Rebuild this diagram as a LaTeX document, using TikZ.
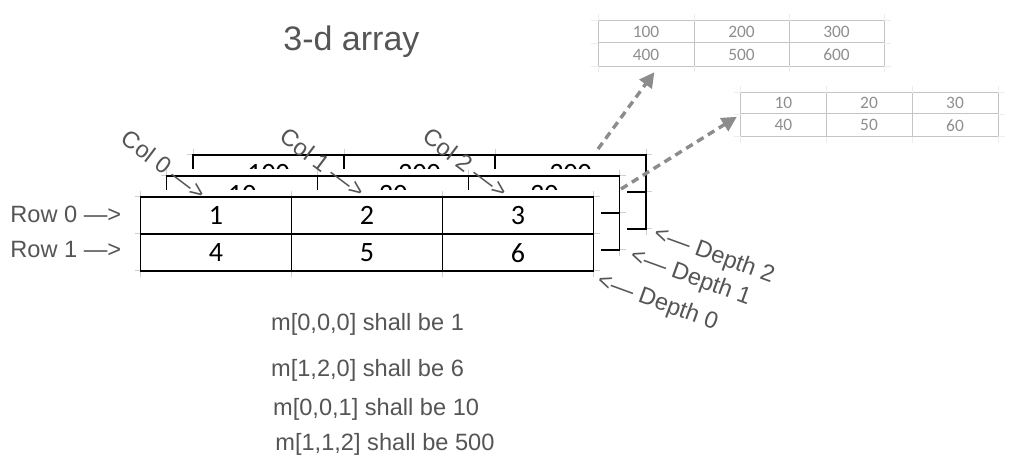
\documentclass[tikz,border=0pt]{standalone}
\usepackage{fontspec}
\setmainfont{Liberation Sans}
\newfontfamily\cellfont{Carlito}
\usetikzlibrary{arrows.meta}
\definecolor{textgray}{HTML}{555555}
\definecolor{tickgray}{HTML}{CFCFCF}
\definecolor{pastegray}{HTML}{C4C4C4}
\definecolor{pastetext}{HTML}{8E8E8E}
\definecolor{faintgray}{HTML}{EDEDED}
\definecolor{arrowgray}{HTML}{8C8C8C}

\begin{document}
\begin{tikzpicture}[x=0.5pt,y=-0.5pt,
    grid/.style={line width=0.65pt},
    tick/.style={tickgray,line width=0.5pt},
    tag/.style={text=textgray,font=\fontsize{11.8}{14}\selectfont,inner sep=0pt},
    num/.style={text=black,font=\cellfont\fontsize{14}{16}\selectfont,inner sep=0pt},
    pasted/.style={draw=pastegray,line width=0.5pt,inner sep=0pt},
    pastenum/.style={text=pastetext,font=\cellfont\fontsize{8.7}{10}\selectfont,inner sep=0pt},
    dasharrow/.style={arrowgray,line width=1.7pt,dash pattern=on 3.8pt off 2.6pt,
        -{Triangle[length=7.5pt,width=7.5pt]}}]
    \useasboundingbox (0,0) rectangle (1015,475);

    \node[tag,anchor=base west,font=\fontsize{17}{20}\selectfont] (title) at (283,50.5) {3-d array};

    % pasted tables, top right
    \node[pasted,minimum width=143pt,minimum height=22.7pt] (hundreds) at (741,43.35) {};
    \foreach \x in {598,694,789,884} \draw[faintgray] (\x,14) -- (\x,20.7) (\x,66) -- (\x,72);
    \foreach \y in {20.7,43,66} \draw[faintgray] (591,\y) -- (598,\y) (884,\y) -- (891,\y);
    \draw[pastegray,line width=0.5pt] (694,20.7) -- (694,66) (789,20.7) -- (789,66) (598,43) -- (884,43);
    \foreach \v/\x/\y in {100/646/31.9, 200/741.5/31.9, 300/836.5/31.9,
                          400/646/54.5, 500/741.5/54.5, 600/836.5/54.5}
        \node[pastenum] (p\v) at (\x,\y) {\v};

    \node[pasted,minimum width=128.65pt,minimum height=22pt] (tens) at (869.35,114.7) {};
    \foreach \x in {740.7,826,912,998} \draw[faintgray] (\x,86) -- (\x,92.7) (\x,136.7) -- (\x,143);
    \foreach \y in {92.7,114,136.7} \draw[faintgray] (734,\y) -- (740.7,\y) (998,\y) -- (1005,\y);
    \draw[pastegray,line width=0.5pt] (826,92.7) -- (826,136.7) (912,92.7) -- (912,136.7) (740.7,114) -- (998,114);
    \foreach \v/\x/\y in {10/783.4/103.4, 20/869/103.4, 30/955/103.4,
                          40/783.4/125.4, 50/869/125.4, 60/955/125.4}
        \node[pastenum] (p\v) at (\x,\y) {\v};

    % stacked layers, back to front
    \foreach \d/\a/\b/\c in {2/100/200/300, 1/10/20/30, 0/1/2/3} {
        \begin{scope}[shift={(26.3*\d,-21*\d)}]
            \fill[white] (133.5,190) rectangle (600.5,278);
            \foreach \x in {140.5,291.5,442.5,593.5}
                \draw[tick] (\x,191) -- (\x,197) (\x,271) -- (\x,277);
            \foreach \y in {197,234,271}
                \draw[tick] (134.5,\y) -- (140.5,\y) (593.5,\y) -- (599.5,\y);
            \draw[grid] (140.5,197) rectangle (593.5,271) (140.5,234) -- (593.5,234)
                (291.5,197) -- (291.5,271) (442.5,197) -- (442.5,271);
            \node[num] (c\d a) at (216,215.5) {\a};
            \node[num] (c\d b) at (367,215.5) {\b};
            \node[num] (c\d c) at (518,215.5) {\c};
        \end{scope}
    }
    \node[num] (c0d) at (216,253) {4};
    \node[num] (c0e) at (367,253) {5};
    \node[num] (c0f) at (518,253) {6};

    \coordinate (back) at (598,149);
    \coordinate (mid) at (621,189);
    \draw[dasharrow,shorten >=3.5pt] (back) -- ([xshift=30.5pt]hundreds.south west);
    \draw[dasharrow,shorten >=2pt] (mid) -- (tens.west);

    % labels
    \node[tag,anchor=base west] (row0) at (10,222.5) {Row 0 —>};
    \node[tag,anchor=base west] (row1) at (10,257) {Row 1 —>};
    \node[tag,anchor=west,rotate=-37] (col0) at (124.5,135) {Col 0 —>};
    \node[tag,anchor=west,rotate=-37] (col1) at (283,133) {Col 1 —>};
    \node[tag,anchor=west,rotate=-37] (col2) at (426,133) {Col 2 —>};
    \node[tag,anchor=west,rotate=-20] (dep2) at (654,234) {<— Depth 2};
    \node[tag,anchor=west,rotate=-20] (dep1) at (630.5,256) {<— Depth 1};
    \node[tag,anchor=west,rotate=-20] (dep0) at (597.5,281) {<— Depth 0};

    \node[tag,anchor=base west] (ex1) at (270.7,330) {m[0,0,0] shall be 1};
    \node[tag,anchor=base west] (ex2) at (270.7,376.7) {m[1,2,0] shall be 6};
    \node[tag,anchor=base west] (ex3) at (272.7,415) {m[0,0,1] shall be 10};
    \node[tag,anchor=base west] (ex4) at (275,450) {m[1,1,2] shall be 500};
\end{tikzpicture}
\end{document}
